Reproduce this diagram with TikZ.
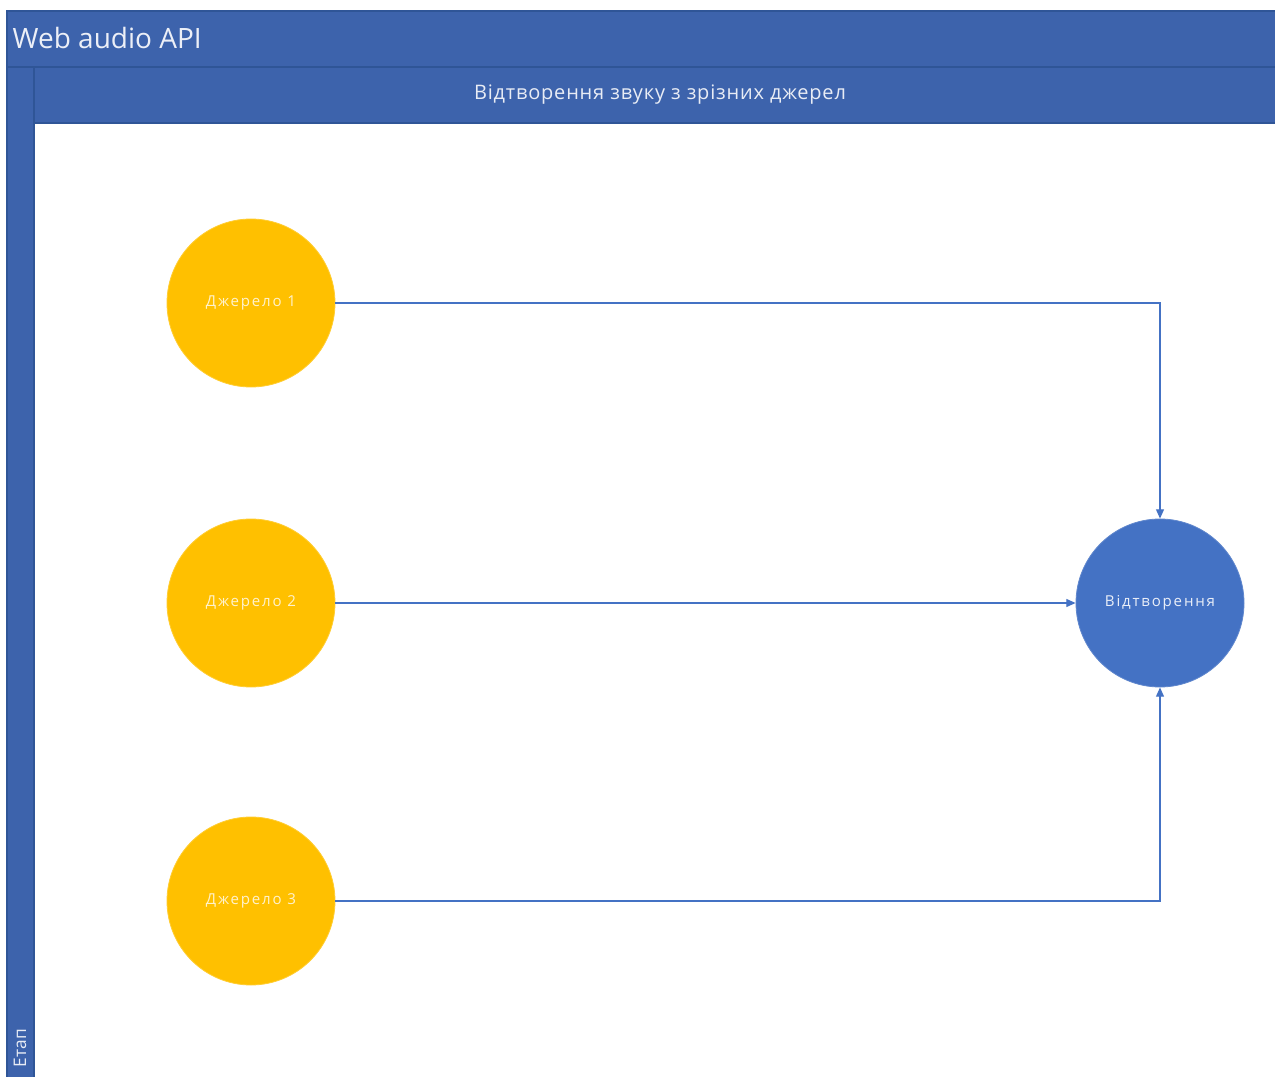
\documentclass[tikz,border=0pt]{standalone}
\usepackage{fontspec}
\setmainfont{Open Sans}
\newfontfamily\spacedfont[LetterSpace=12]{Open Sans}
\newfontfamily\lanefont[LetterSpace=4]{Open Sans}
\usetikzlibrary{arrows.meta}
\definecolor{bandblue}{HTML}{3D63AC}
\definecolor{bandedge}{HTML}{2F5597}
\definecolor{nodeblue}{HTML}{4472C4}
\definecolor{srcyellow}{HTML}{FFC000}
\definecolor{srctext}{HTML}{FFF2CC}
\begin{document}
\begin{tikzpicture}[x=0.75pt,y=-0.75pt,
  band/.style={fill=bandblue,draw=bandedge,line width=0.8pt},
  source/.style={circle,fill=srcyellow,draw=srcyellow!80!white,line width=0.6pt,
    minimum size=126pt,inner sep=0pt,text=srctext,font=\spacedfont\fontsize{11.3}{13}\selectfont},
  sink/.style={circle,fill=nodeblue,draw=nodeblue!85!white,line width=0.6pt,
    minimum size=126pt,inner sep=0pt,text=white!88!nodeblue,font=\spacedfont\fontsize{11.3}{13}\selectfont},
  link/.style={draw=nodeblue,line width=0.9pt,-{Triangle[length=7pt,width=6pt]}}]
\useasboundingbox (0,0) rectangle (1275,1077);
\fill[white] (0,0) rectangle (1275,1077);
% pool header
\draw[band] (7,11) rectangle (1276,67);
\node[anchor=west,text=white!90!bandblue,font=\fontsize{21}{24}\selectfont] (title) at (8,38) {Web audio API};
% lane header
\draw[band] (34,67) rectangle (1276,123);
\node[text=white!88!bandblue,font=\lanefont\fontsize{15}{18}\selectfont] (lane) at (660,95) {Відтворення звуку з зрізних джерел};
% phase column
\draw[band] (7,67) rectangle (34,1078);
\node[rotate=90,anchor=west,text=white!88!bandblue,font=\fontsize{13}{15}\selectfont] (phase) at (20,1072) {Етап};
% nodes
\node[source] (s1) at (251,303) {Джерело 1};
\node[source] (s2) at (251,603) {Джерело 2};
\node[source] (s3) at (251,901) {Джерело 3};
\node[sink] (out) at (1160,603) {Відтворення};
% connectors
\draw[link] (s1.east) -| (out.north);
\draw[link] (s2.east) -- (out.west);
\draw[link] (s3.east) -| (out.south);
\end{tikzpicture}
\end{document}
